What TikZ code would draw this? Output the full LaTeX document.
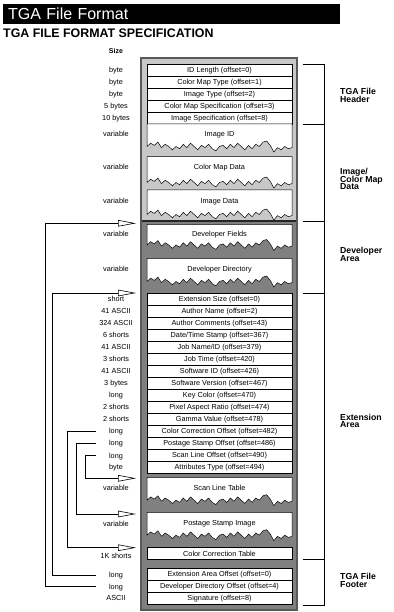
\documentclass[tikz,border=0pt]{standalone}
\usepackage{fontspec}
\setmainfont{Liberation Sans}
\usetikzlibrary{arrows.meta}
\definecolor{lightbg}{HTML}{C8C8C8}
\definecolor{darkbg}{HTML}{808080}
\definecolor{framecol}{HTML}{5A5A5A}
\newcommand\areafont{\bfseries\fontsize{8.7}{7.6}\selectfont\lineskiplimit-20pt\relax}
\tikzset{
  row/.style={draw, fill=white, line width=0.5pt, minimum width=145pt, minimum height=12pt,
    inner sep=0pt, text height=5.2pt, text depth=0pt, font=\fontsize{7.3}{8}\selectfont},
  sizelbl/.style={inner sep=0pt, text height=5.2pt, text depth=0pt, font=\fontsize{7.3}{8}\selectfont},
  arealbl/.style={font=\areafont, align=left, anchor=west, inner sep=0pt},
  conn/.style={line width=0.6pt, -{Triangle[open, length=18pt, width=6.5pt, line width=0.6pt]}},
  brk/.style={line width=0.6pt},
  torn/.style={fill=white, draw, line width=0.5pt},
}
\newcommand\tornshape[2]{%
  \path[torn] (292,#1) -- (147,#1)
    \foreach \i/\h in {0/5,1/8,2/6,3/9,4/4,5/7,6/5,7/2,8/5,9/3,10/7,11/4,12/8,13/5,14/2,15/6,16/4,17/7,18/3,19/1,20/5,21/6,22/3,23/7,24/4,25/8,26/5,27/2,28/6,29/3,30/7,31/5,32/9,33/10,34/6,35/0,36/4,37/2,38/5,39/3,40/4}
    { -- ({147+\i*3.625},{#2-1.1*\h}) } -- cycle;
}
\begin{document}
\begin{tikzpicture}[x=1pt, y=-1pt]
\useasboundingbox (0,0) rectangle (393,612);
% title
\node[fill=black, text=white, anchor=north west, minimum width=337pt, minimum height=20pt,
  text width=327pt, inner xsep=5pt, inner ysep=0pt, align=left,
  font=\fontsize{16}{16}\selectfont] (title) at (3,4) {TGA File Format};
\node[anchor=base west, inner sep=0pt, font=\bfseries\fontsize{12.4}{14}\selectfont] (subtitle) at (3,37.3) {TGA FILE FORMAT SPECIFICATION};
\node[sizelbl, font=\bfseries\fontsize{7}{8}\selectfont] (sizehead) at (116,51) {Size};
% outer box
\fill[lightbg] (141,58) rectangle (297,221);
\fill[darkbg] (141,221) rectangle (297,610);
\draw[line width=1.5pt, framecol] (141,58) rectangle (297,610);
\draw[line width=1.5pt, black!85] (141.75,221) -- (296.25,221);
% header rows
\node[row] (idlen) at (219.5,70) {ID Length (offset=0)};
\node[row] (cmtype) at (219.5,82) {Color Map Type (offset=1)};
\node[row] (imtype) at (219.5,94) {Image Type (offset=2)};
\node[row] (cmspec) at (219.5,106) {Color Map Specification (offset=3)};
\node[row] (imspec) at (219.5,118) {Image Specification (offset=8)};
% torn boxes
\tornshape{124}{152}
\tornshape{156.7}{188}
\tornshape{190}{220}
\tornshape{224.3}{250.5}
\tornshape{258.3}{287}
\tornshape{477.3}{505.7}
\tornshape{512.3}{540.7}
\node[sizelbl] (imid) at (219.5,134.3) {Image ID};
\node[sizelbl] (cmdata) at (219.5,167.3) {Color Map Data};
\node[sizelbl] (imdata) at (219.5,200.7) {Image Data};
\node[sizelbl] (devf) at (219.5,234.3) {Developer Fields};
\node[sizelbl] (devd) at (219.5,269.3) {Developer Directory};
\node[sizelbl] (sltab) at (219.5,488.3) {Scan Line Table};
\node[sizelbl] (psimg) at (219.5,523.3) {Postage Stamp Image};
% extension rows
\node[row] (e1) at (219.5,299.3) {Extension Size (offset=0)};
\node[row] (e2) at (219.5,311.3) {Author Name (offset=2)};
\node[row] (e3) at (219.5,323.3) {Author Comments (offset=43)};
\node[row] (e4) at (219.5,335.3) {Date/Time Stamp (offset=367)};
\node[row] (e5) at (219.5,347.3) {Job Name/ID (offset=379)};
\node[row] (e6) at (219.5,359.3) {Job Time (offset=420)};
\node[row] (e7) at (219.5,371.3) {Software ID (offset=426)};
\node[row] (e8) at (219.5,383.3) {Software Version (offset=467)};
\node[row] (e9) at (219.5,395.3) {Key Color (offset=470)};
\node[row] (e10) at (219.5,407.3) {Pixel Aspect Ratio (offset=474)};
\node[row] (e11) at (219.5,419.3) {Gamma Value (offset=478)};
\node[row] (e12) at (219.5,431.3) {Color Correction Offset (offset=482)};
\node[row] (e13) at (219.5,443.3) {Postage Stamp Offset (offset=486)};
\node[row] (e14) at (219.5,455.3) {Scan Line Offset (offset=490)};
\node[row] (e15) at (219.5,467.3) {Attributes Type (offset=494)};
\node[row] (cctab) at (219.5,553.5) {Color Correction Table};
% footer rows
\node[row] (f1) at (219.5,574.3) {Extension Area Offset (offset=0)};
\node[row] (f2) at (219.5,586.3) {Developer Directory Offset (offset=4)};
\node[row] (f3) at (219.5,598.3) {Signature (offset=8)};
% size labels
\node[sizelbl] (s1) at (116,70) {byte};
\node[sizelbl] (s2) at (116,82) {byte};
\node[sizelbl] (s3) at (116,94) {byte};
\node[sizelbl] (s4) at (116,106) {5 bytes};
\node[sizelbl] (s5) at (116,118) {10 bytes};
\node[sizelbl] (s6) at (116,134.3) {variable};
\node[sizelbl] (s7) at (116,166.5) {variable};
\node[sizelbl] (s8) at (116,200.7) {variable};
\node[sizelbl] (s9) at (116,234.3) {variable};
\node[sizelbl] (s10) at (116,269.3) {variable};
\node[sizelbl] (x1) at (116,299.3) {short};
\node[sizelbl] (x2) at (116,311.3) {41 ASCII};
\node[sizelbl] (x3) at (116,323.3) {324 ASCII};
\node[sizelbl] (x4) at (116,335.3) {6 shorts};
\node[sizelbl] (x5) at (116,347.3) {41 ASCII};
\node[sizelbl] (x6) at (116,359.3) {3 shorts};
\node[sizelbl] (x7) at (116,371.3) {41 ASCII};
\node[sizelbl] (x8) at (116,383.3) {3 bytes};
\node[sizelbl] (x9) at (116,395.3) {long};
\node[sizelbl] (x10) at (116,407.3) {2 shorts};
\node[sizelbl] (x11) at (116,419.3) {2 shorts};
\node[sizelbl] (x12) at (116,431.3) {long};
\node[sizelbl] (x13) at (116,443.3) {long};
\node[sizelbl] (x14) at (116,455.5) {long};
\node[sizelbl] (x15) at (116,467.3) {byte};
\node[sizelbl] (x16) at (116,488.3) {variable};
\node[sizelbl] (x17) at (116,524) {variable};
\node[sizelbl] (x18) at (116,555.5) {1K shorts};
\node[sizelbl] (g1) at (116,575) {long};
\node[sizelbl] (g2) at (116,586.7) {long};
\node[sizelbl] (g3) at (116,598.3) {ASCII};
% area labels
\node[arealbl] (lhead) at (340,95.4) {TGA File\\Header};
\node[arealbl] (limg) at (340,179.1) {Image/\\Color Map\\Data};
\node[arealbl] (ldev) at (340,254.5) {Developer\\Area};
\node[arealbl] (lext) at (340,420.9) {Extension\\Area};
\node[arealbl] (lfoot) at (340,580.4) {TGA File\\Footer};
% brackets
\draw[brk] (303,64) -- (324,64) -- (324,605) -- (303,605);
\draw[brk] (303,124) -- (324,124);
\draw[brk] (303,221) -- (324,221);
\draw[brk] (303,293) -- (324,293);
\draw[brk] (303,559.3) -- (324,559.3);
% connectors
\coordinate (cDDs) at (96,586.7); \coordinate (cDDe) at (136,223.3);
\coordinate (cEAs) at (96,575);   \coordinate (cEAe) at (136,293);
\coordinate (cCCs) at (96,431);   \coordinate (cCCe) at (136,547.7);
\coordinate (cPSs) at (96,443.3); \coordinate (cPSe) at (136,514);
\coordinate (cSLs) at (96,455.7); \coordinate (cSLe) at (136,478.3);
\draw[conn] (cDDs) -- ++(-51,0) |- (cDDe);
\draw[conn] (cEAs) -- ++(-43.7,0) |- (cEAe);
\draw[conn] (cCCs) -- ++(-28.3,0) |- (cCCe);
\draw[conn] (cPSs) -- ++(-19.3,0) |- (cPSe);
\draw[conn] (cSLs) -- ++(-11,0) |- (cSLe);
\end{tikzpicture}
\end{document}
